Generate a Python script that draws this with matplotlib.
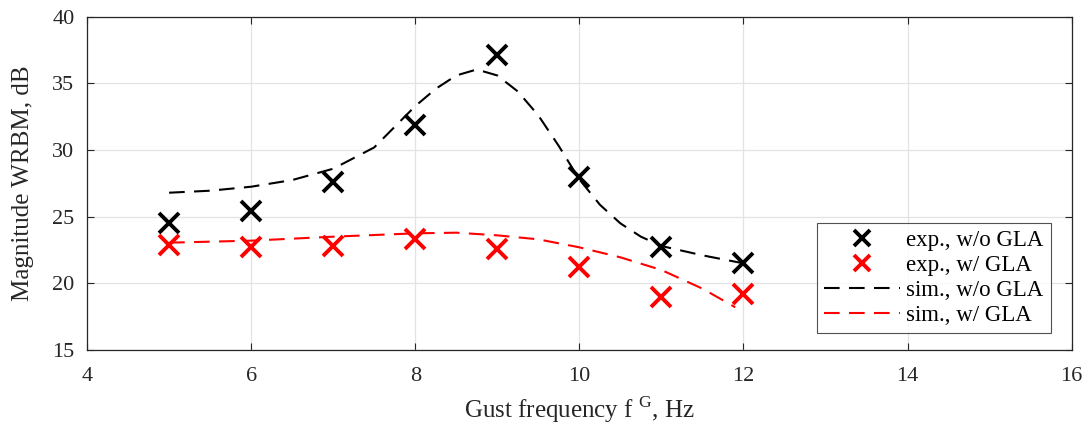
import matplotlib
matplotlib.use("Agg")
import matplotlib.pyplot as plt

freq_exp = [5, 6, 7, 8, 9, 10, 11, 12]
exp_wo = [24.55, 25.4, 27.6, 31.9, 37.1, 27.95, 22.75, 21.5]
exp_w = [22.9, 22.75, 22.8, 23.3, 22.6, 21.25, 19.0, 19.2]

freq_sim = [5, 5.5, 6, 6.5, 7, 7.5, 8, 8.25, 8.5, 8.75, 9, 9.25, 9.5, 9.75,
            10, 10.25, 10.5, 10.75, 11, 11.5, 12]
sim_wo = [26.8, 26.95, 27.25, 27.75, 28.6, 30.2, 33.3, 34.6, 35.6, 36.05, 35.6,
          34.4, 32.6, 30.3, 27.8, 25.9, 24.5, 23.5, 22.8, 22.1, 21.5]
freq_sim_w = [5, 6, 7, 8, 8.5, 9, 9.5, 10, 10.5, 11, 11.5, 11.9]
sim_w = [23.05, 23.2, 23.5, 23.75, 23.8, 23.6, 23.3, 22.7, 21.95, 21.0, 19.6, 18.2]

plt.rcParams['font.family'] = ['Liberation Serif', 'DejaVu Serif']
plt.rcParams['mathtext.fontset'] = 'custom'
plt.rcParams['mathtext.rm'] = 'Liberation Serif'

dark = '#262626'
fig = plt.figure(figsize=(10.88, 4.32), dpi=100)
ax = fig.add_axes([0.080, 0.19, 0.905, 0.771])

ax.plot(freq_exp, exp_wo, linestyle='none', marker='x', color='black',
        markersize=14, markeredgewidth=2.8, label='exp., w/o GLA')
ax.plot(freq_exp, exp_w, linestyle='none', marker='x', color='red',
        markersize=14, markeredgewidth=2.8, label='exp., w/ GLA')
ax.plot(freq_sim, sim_wo, linestyle=(0, (7.5, 4.5)), color='black', lw=1.5,
        label='sim., w/o GLA')
ax.plot(freq_sim_w, sim_w, linestyle=(0, (7.5, 4.5)), color='red', lw=1.5,
        label='sim., w/ GLA')

ax.set_xlim(4, 16)
ax.set_ylim(15, 40)
ax.set_xticks([4, 6, 8, 10, 12, 14, 16])
ax.set_yticks([15, 20, 25, 30, 35, 40])
ax.grid(True, color='#e3e3e3', linewidth=0.9)
ax.set_axisbelow(True)
ax.tick_params(direction='in', top=True, right=True, labelsize=16,
               color=dark, labelcolor=dark, length=5, width=0.8)
ax.tick_params(axis='x', pad=12)
ax.tick_params(axis='y', pad=9)
for s in ax.spines.values():
    s.set_color(dark)
    s.set_linewidth(0.9)

ax.set_xlabel('Gust frequency f $^{\\mathrm{G}}$, Hz', fontsize=18, color=dark,
              labelpad=6)
ax.set_ylabel('Magnitude WRBM, dB', fontsize=18, color=dark, labelpad=13)

leg = ax.legend(loc='lower right', fontsize=16.5, frameon=True, fancybox=False,
                edgecolor=dark, handlelength=3.3, handletextpad=0.3,
                borderpad=0.3, labelspacing=0.18, borderaxespad=0,
                markerscale=0.8, bbox_to_anchor=(0.9787, 0.051))
leg.get_frame().set_linewidth(0.8)
for t in leg.get_texts():
    t.set_color('black')

fig.savefig('out.png', dpi=100)
